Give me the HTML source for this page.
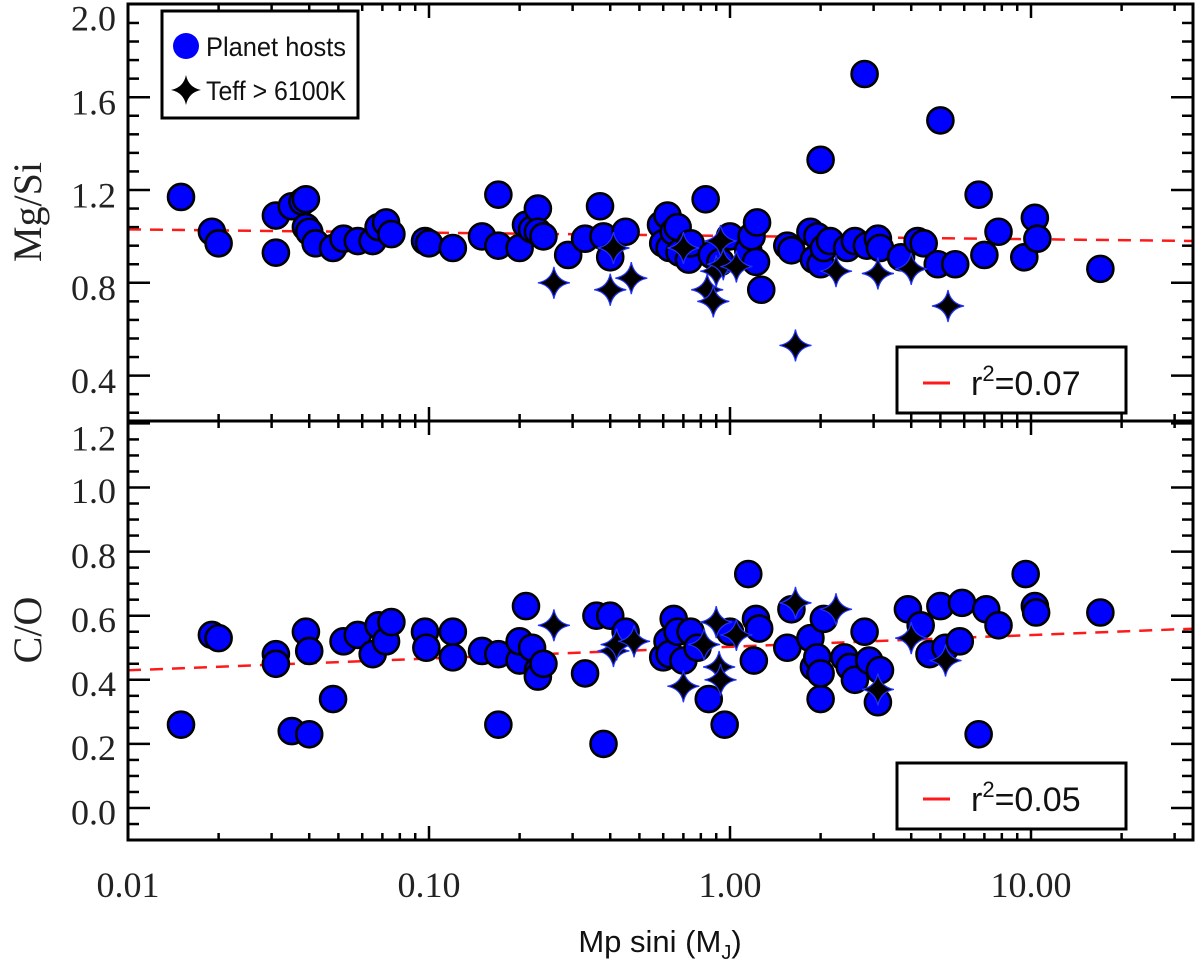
<!DOCTYPE html>
<html><head><meta charset="utf-8"><style>
html,body{margin:0;padding:0;background:#fff;}
svg{display:block;}
.serif{font-family:"Liberation Serif",serif;fill:#222;}
.sans{font-family:"Liberation Sans",sans-serif;fill:#111;}
</style></head><body>
<svg id="chart" width="1200" height="969" viewBox="0 0 1200 969" xmlns="http://www.w3.org/2000/svg">
<g id="grid"></g>
<g id="marks"></g>
<g id="frame"></g>
</svg>
<script>
// ---- data ----
const topHostMass=[0.015,0.019,0.020,0.031,0.031,0.035,0.038,0.039,0.039,0.040,0.042,0.048,0.052,0.058,0.065,0.068,0.072,0.075,0.097,0.10,0.12,0.15,0.17,0.17,0.20,0.21,0.22,0.23,0.23,0.24,0.29,0.33,0.37,0.38,0.40,0.45,0.59,0.60,0.62,0.63,0.65,0.67,0.68,0.73,0.74,0.83,0.87,0.93,1.0,1.15,1.18,1.22,1.23,1.27,1.55,1.6,1.85,1.9,1.95,2.0,2.0,2.05,2.15,2.45,2.6,2.8,2.85,3.1,3.15,3.7,4.2,4.4,4.9,5.0,5.6,6.7,7.0,7.8,9.5,10.3,10.5,17.0];
const topHostMgSi=[1.17,1.02,0.97,1.09,0.93,1.13,1.15,1.16,1.04,1.02,0.97,0.95,0.99,0.98,0.98,1.04,1.06,1.01,0.98,0.97,0.95,1.00,1.18,0.96,0.95,1.05,1.03,1.12,1.02,1.00,0.92,0.99,1.13,1.00,0.91,1.02,1.05,0.97,1.09,0.95,1.02,1.04,0.93,0.90,0.97,1.16,0.92,0.89,1.00,0.94,1.00,0.89,1.06,0.77,0.96,0.94,1.02,0.90,1.00,1.33,0.88,0.95,0.98,0.95,0.98,1.70,0.96,0.99,0.95,0.91,0.98,0.97,0.88,1.50,0.88,1.18,0.92,1.02,0.91,1.08,0.99,0.86];
const topHotMass=[0.26,0.40,0.41,0.47,0.70,0.84,0.88,0.90,0.93,0.95,1.05,1.65,2.25,3.1,4.0,5.3];
const topHotMgSi=[0.80,0.77,0.95,0.82,0.95,0.77,0.72,0.85,0.98,0.88,0.87,0.53,0.85,0.84,0.86,0.70];
const botHostMass=[0.015,0.019,0.020,0.031,0.031,0.035,0.039,0.040,0.040,0.048,0.052,0.058,0.065,0.068,0.072,0.075,0.097,0.098,0.12,0.12,0.15,0.17,0.17,0.20,0.20,0.21,0.22,0.23,0.23,0.24,0.33,0.36,0.38,0.40,0.45,0.60,0.62,0.63,0.65,0.67,0.70,0.74,0.78,0.85,0.96,1.0,1.15,1.2,1.22,1.25,1.55,1.6,1.85,1.9,1.95,2.0,2.0,2.05,2.4,2.5,2.6,2.8,2.9,3.1,3.15,3.9,4.3,4.6,5.0,5.2,5.9,5.8,6.7,7.1,7.8,9.6,10.3,10.4,17.0];
const botHostCO=[0.26,0.54,0.53,0.48,0.45,0.24,0.55,0.49,0.23,0.34,0.52,0.54,0.48,0.57,0.52,0.58,0.55,0.50,0.55,0.47,0.49,0.48,0.26,0.46,0.52,0.63,0.50,0.43,0.41,0.45,0.42,0.60,0.20,0.60,0.55,0.47,0.52,0.48,0.59,0.55,0.46,0.55,0.50,0.34,0.26,0.55,0.73,0.46,0.59,0.56,0.50,0.62,0.53,0.44,0.47,0.34,0.42,0.59,0.47,0.44,0.40,0.55,0.46,0.33,0.43,0.62,0.57,0.48,0.63,0.50,0.64,0.52,0.23,0.62,0.57,0.73,0.63,0.61,0.61];
const botHotMass=[0.26,0.41,0.42,0.48,0.70,0.82,0.90,0.92,0.93,1.05,1.65,2.25,3.1,4.0,5.2];
const botHotCO=[0.57,0.49,0.51,0.52,0.38,0.51,0.58,0.44,0.40,0.54,0.64,0.62,0.37,0.53,0.46];
const topFit=[1.002,-0.0141]; // intercept, slope vs log10(M)
const botFit=[0.503,0.0367];
const xTickVals=[0.01,0.1,1,10];
const xTickLabels=["0.01","0.10","1.00","10.00"];
const topYTicks=[0.4,0.8,1.2,1.6,2.0];
const topYLabels=["0.4","0.8","1.2","1.6","2.0"];
const botYTicks=[0.0,0.2,0.4,0.6,0.8,1.0,1.2];
const botYLabels=["0.0","0.2","0.4","0.6","0.8","1.0","1.2"];

// ---- axes ----
const X0=128,X1=1193,DEC=301;
const xs=m=>X0+(Math.log10(m)+2)*DEC;
const XMAX=Math.pow(10,(X1-X0)/DEC-2);
const yTop=v=>190-(v-1.2)*232;
const yBot=v=>808-v*320.5;
const PT={top:4,bot:421}, PB={top:421,bot:840};

const NS="http://www.w3.org/2000/svg";
function mk(tag,attrs,parent){const e=document.createElementNS(NS,tag);for(const k in attrs)e.setAttribute(k,attrs[k]);parent.appendChild(e);return e;}
const grid=document.getElementById('grid'),marks=document.getElementById('marks'),frame=document.getElementById('frame');

function fitLine(fit,ys,name){
  const m0=0.01,m1=XMAX;
  const l=mk('line',{x1:xs(m0),y1:ys(fit[0]+fit[1]*Math.log10(m0)),x2:xs(m1),y2:ys(fit[0]+fit[1]*Math.log10(m1)),stroke:'#ff1a1a','stroke-width':2.5,'stroke-dasharray':'13,9'},grid);
  
  
}
fitLine(topFit,yTop,'mgsi-fit-line');
fitLine(botFit,yBot,'co-fit-line');

function circle(cx,cy,parent,name){
  const c=mk('circle',{cx:cx,cy:cy,r:13,fill:'#0000ff',stroke:'#000','stroke-width':2.6},parent);
  
  
}
function star(cx,cy,parent,name){
  const s=16,w=2.5;
  const d=`M${cx},${cy-s} Q${cx+w},${cy-w} ${cx+s},${cy} Q${cx+w},${cy+w} ${cx},${cy+s} Q${cx-w},${cy+w} ${cx-s},${cy} Q${cx-w},${cy-w} ${cx},${cy-s}Z`;
  const p=mk('path',{d:d,fill:'#000',stroke:'#2233ff','stroke-width':1.2},parent);
  
  
}
topHostMass.forEach((m,i)=>circle(xs(m),yTop(topHostMgSi[i]),marks,'mgsi-host-point'));
topHotMass.forEach((m,i)=>star(xs(m),yTop(topHotMgSi[i]),marks,'mgsi-hot-star-point'));
botHostMass.forEach((m,i)=>circle(xs(m),yBot(botHostCO[i]),marks,'co-host-point'));
botHotMass.forEach((m,i)=>star(xs(m),yBot(botHotCO[i]),marks,'co-hot-star-point'));

// ---- frames & ticks ----
function panel(P,ys,majors,minorStep,labels,name,labelOffsets){
  const r=mk('rect',{x:X0,y:P.top,width:X1-X0,height:P.bot-P.top,fill:'none',stroke:'#000','stroke-width':3},frame);
  
  
  const vmax=Math.max(...majors)+1;
  for(let v=Math.round(majors[0]/minorStep)*minorStep-10*minorStep;v<=vmax;v+=minorStep){
    const y=ys(v); if(y<P.top+1||y>P.bot-1) continue;
    const isMaj=majors.some(t=>Math.abs(t-v)<1e-6);
    const L=isMaj?22:11;
    mk('line',{x1:X0,y1:y,x2:X0+L,y2:y,stroke:'#000','stroke-width':2.5},frame);
    mk('line',{x1:X1,y1:y,x2:X1-L,y2:y,stroke:'#000','stroke-width':2.5},frame);
  }
  majors.forEach((v,i)=>{
    const t=mk('text',{x:116,y:ys(v)+labelOffsets[i],'text-anchor':'end','font-size':36,'dominant-baseline':'middle',class:'serif'},frame);
    t.textContent=labels[i];
    
    
  });
  for(let d=-2;d<=1;d++){for(let k=1;k<=9;k++){
    const m=k*Math.pow(10,d); if(m>XMAX) continue;
    const x=xs(m); const L=k===1?14:7;
    mk('line',{x1:x,y1:P.bot,x2:x,y2:P.bot-L,stroke:'#000','stroke-width':2.5},frame);
    mk('line',{x1:x,y1:P.top,x2:x,y2:P.top+L,stroke:'#000','stroke-width':2.5},frame);
  }}
}
panel(PT,yTop,topYTicks,0.08,topYLabels,'mgsi-panel',[9,9,9,9,18]);
panel(PB,yBot,botYTicks,0.05,botYLabels,'co-panel',[8,8,8,8,8,7,19]);

xTickVals.forEach((v,i)=>{
  const t=mk('text',{x:xs(v),y:897,'text-anchor':'middle','font-size':36,class:'serif'},frame);
  t.textContent=xTickLabels[i];
  
  
});
</script>
<script>
const svg=document.getElementById('chart');
function add(html){svg.insertAdjacentHTML('beforeend',html);}
add(`<text x="32" y="212" transform="rotate(-90 32 212)" text-anchor="middle" dominant-baseline="middle" font-size="40" class="serif">Mg/Si</text>`);
add(`<text x="32" y="630" transform="rotate(-90 32 630)" text-anchor="middle" dominant-baseline="middle" font-size="40" class="serif">C/O</text>`);
add(`<text x="660" y="952" text-anchor="middle" font-size="31" class="sans">Mp sini (M<tspan font-size="20" dy="7">J</tspan><tspan dy="-7">)</tspan></text>`);
add(`<g>
<rect x="162" y="11" width="196" height="107" fill="#fff" stroke="#000" stroke-width="3"/>
<circle cx="186" cy="46" r="13" fill="#0000ff"/>
<text x="206" y="56" font-size="27" textLength="140" lengthAdjust="spacingAndGlyphs" class="sans">Planet hosts</text>
<path d="M186,75 Q188.5,87.5 201,90 Q188.5,92.5 186,105 Q183.5,92.5 171,90 Q183.5,87.5 186,75Z" fill="#000"/>
<text x="206" y="100" font-size="27" textLength="140" lengthAdjust="spacingAndGlyphs" class="sans">Teff &gt; 6100K</text>
</g>`);
add(`<g>
<rect x="897" y="347" width="229" height="66" fill="#fff" stroke="#000" stroke-width="3"/>
<line x1="923" y1="383" x2="950" y2="383" stroke="#ff1a1a" stroke-width="3"/>
<text x="971" y="395" font-size="34" class="sans">r<tspan font-size="22" dy="-14">2</tspan><tspan dy="14">=0.07</tspan></text>
</g>`);
add(`<g>
<rect x="897" y="763" width="229" height="66" fill="#fff" stroke="#000" stroke-width="3"/>
<line x1="923" y1="799" x2="950" y2="799" stroke="#ff1a1a" stroke-width="3"/>
<text x="971" y="811" font-size="34" class="sans">r<tspan font-size="22" dy="-14">2</tspan><tspan dy="14">=0.05</tspan></text>
</g>`);
</script>
</body></html>
